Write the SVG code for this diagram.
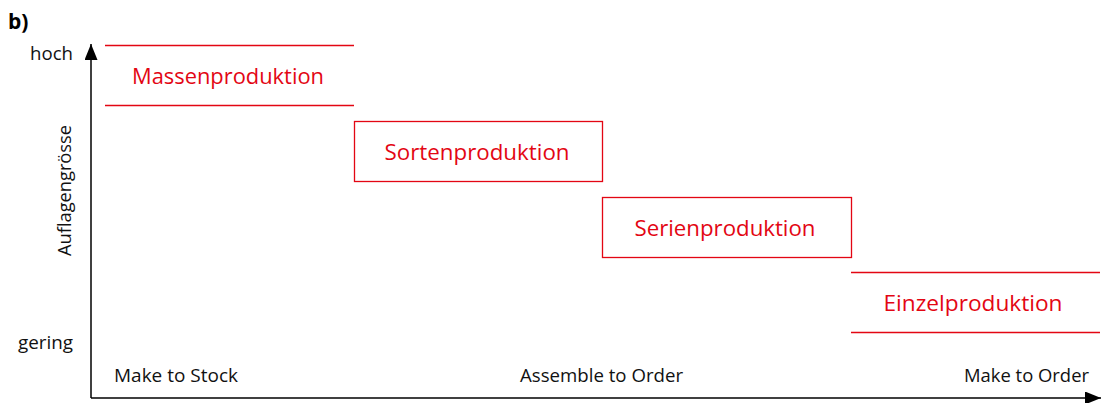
<svg xmlns="http://www.w3.org/2000/svg" width="1109" height="403" viewBox="0 0 1109 403">
  <style>
    .lbl { font-family: "Open Sans", "Noto Sans", sans-serif; font-size: 18px; fill: #111; }
    .prod { font-family: "Open Sans", "Noto Sans", sans-serif; font-size: 22px; fill: #e30613; text-anchor: middle; dominant-baseline: central; }
    .box { fill: none; stroke: #e30613; stroke-width: 1.3; }
    .axis { stroke: #000; stroke-width: 1.5; fill: none; }
  </style>
  <defs>
    <!-- filled triangular arrowhead for both axes -->
    <marker id="arrow" viewBox="0 0 16 13" refX="16" refY="6.5" markerWidth="16" markerHeight="13" markerUnits="userSpaceOnUse" orient="auto">
      <path d="M0,0 L16,6.5 L0,13 z" fill="#000"/>
    </marker>
  </defs>
  <rect width="1109" height="403" fill="#fff"/>
  <text x="8" y="29" font-family="Open Sans, Noto Sans, sans-serif" font-size="21" font-weight="bold" fill="#000">b)</text>

  <g id="axes">
    <line class="axis" x1="91" y1="398" x2="91" y2="44" marker-end="url(#arrow)"/>
    <line class="axis" x1="91" y1="398" x2="1101" y2="398" marker-end="url(#arrow)"/>
  </g>

  <g id="axis-labels">
    <text class="lbl" x="30" y="60" textLength="43" lengthAdjust="spacingAndGlyphs">hoch</text>
    <text class="lbl" x="18" y="349" textLength="55" lengthAdjust="spacingAndGlyphs">gering</text>
    <text class="lbl" transform="translate(71,256) rotate(-90)" textLength="131" lengthAdjust="spacingAndGlyphs">Auflagengrösse</text>
    <text class="lbl" x="114" y="382" textLength="124" lengthAdjust="spacingAndGlyphs">Make to Stock</text>
    <text class="lbl" x="520" y="382" textLength="163" lengthAdjust="spacingAndGlyphs">Assemble to Order</text>
    <text class="lbl" x="964" y="382" textLength="125" lengthAdjust="spacingAndGlyphs">Make to Order</text>
  </g>

  <g id="massenproduktion">
    <line class="box" x1="105" y1="45.5" x2="354" y2="45.5"/>
    <line class="box" x1="105" y1="105.5" x2="354" y2="105.5"/>
    <text class="prod" x="228" y="75" textLength="192" lengthAdjust="spacingAndGlyphs">Massenproduktion</text>
  </g>
  <g id="sortenproduktion">
    <rect class="box" x="354.5" y="121.5" width="248" height="60"/>
    <text class="prod" x="477" y="151" textLength="185" lengthAdjust="spacingAndGlyphs">Sortenproduktion</text>
  </g>
  <g id="serienproduktion">
    <rect class="box" x="602.5" y="197.5" width="249" height="60"/>
    <text class="prod" x="725" y="227" textLength="181" lengthAdjust="spacingAndGlyphs">Serienproduktion</text>
  </g>
  <g id="einzelproduktion">
    <line class="box" x1="851" y1="272.5" x2="1100" y2="272.5"/>
    <line class="box" x1="851" y1="332.5" x2="1100" y2="332.5"/>
    <text class="prod" x="973" y="302" textLength="179" lengthAdjust="spacingAndGlyphs">Einzelproduktion</text>
  </g>
</svg>
